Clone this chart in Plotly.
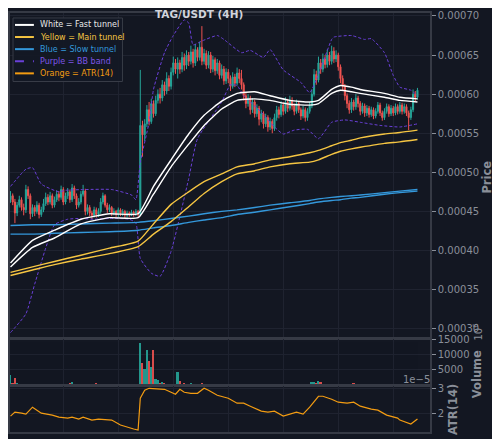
import plotly.graph_objects as go
from plotly.subplots import make_subplots

# TAG/USDT 4H candles, prices in 1e-6 USDT
first_open = 465
closes = [470, 462, 448, 458, 465, 455, 452, 478, 470, 447,
          455, 450, 458, 446, 452, 460, 468, 462, 470, 458,
          465, 472, 468, 478, 462, 470, 475, 465, 480, 470,
          458, 462, 472, 476, 450, 455, 448, 445, 452, 446,
          450, 462, 470, 458, 452, 455, 448, 450, 446, 452,
          447, 450, 445, 448, 446, 449, 447, 450, 446, 560,
          548, 562, 580, 565, 588, 575, 592, 600, 595, 612,
          604, 620, 610, 628, 640, 632, 640, 632, 647, 637,
          650, 642, 654, 640, 657, 647, 660, 642, 652, 637,
          650, 632, 644, 630, 640, 624, 632, 617, 628, 620,
          610, 622, 614, 627, 620, 612, 598, 588, 595, 580,
          590, 575, 582, 568, 575, 562, 570, 558, 565, 556,
          570, 580, 574, 586, 578, 590, 582, 592, 585, 578,
          588, 580, 572, 580, 570, 578, 585, 600, 625, 618,
          640, 632, 645, 638, 650, 642, 655, 645, 650, 635,
          620, 610, 598, 588, 580, 590, 584, 595, 588, 578,
          585, 576, 582, 574, 580, 572, 578, 586, 576, 570,
          578, 584, 575, 582, 576, 584, 578, 586, 578, 584,
          576, 570, 580, 600, 596, 605]
highs = [476, 473, 466, 462, 470, 468, 460, 484, 482, 473,
         459, 458, 463, 461, 456, 466, 474, 472, 475, 473,
         469, 477, 476, 483, 481, 474, 480, 478, 485, 483,
         473, 467, 476, 484, 479, 459, 458, 451, 456, 455,
         454, 467, 474, 472, 461, 459, 457, 454, 452, 455,
         454, 453, 452, 451, 450, 452, 451, 453, 452, 631,
         566, 568, 586, 590, 594, 592, 598, 606, 608, 618,
         616, 628, 624, 634, 648, 645, 647, 644, 654, 652,
         656, 654, 662, 658, 664, 660, 667, 687, 658, 656,
         655, 654, 649, 647, 645, 643, 638, 636, 633, 632,
         624, 628, 626, 634, 632, 631, 615, 602, 600, 598,
         595, 593, 587, 585, 580, 578, 575, 573, 570, 568,
         575, 585, 584, 591, 590, 596, 594, 598, 596, 588,
         593, 591, 583, 585, 583, 582, 590, 606, 632, 630,
         648, 645, 652, 650, 657, 654, 662, 660, 656, 653,
         638, 624, 613, 601, 592, 595, 593, 600, 598, 591,
         589, 588, 586, 585, 584, 583, 582, 590, 589, 579,
         582, 588, 587, 586, 585, 588, 587, 590, 589, 588,
         587, 579, 584, 606, 604, 608]
lows = [461, 458, 435, 444, 455, 451, 445, 448, 466, 440,
        443, 444, 447, 441, 443, 449, 457, 458, 459, 454,
        455, 462, 463, 465, 458, 459, 466, 461, 462, 466,
        453, 455, 459, 469, 445, 446, 444, 440, 442, 442,
        443, 447, 459, 455, 448, 449, 444, 445, 443, 443,
        444, 444, 441, 442, 443, 444, 443, 444, 443, 444,
        520, 540, 558, 560, 562, 570, 572, 588, 588, 591,
        598, 600, 604, 606, 624, 626, 620, 626, 628, 630,
        632, 636, 638, 634, 636, 642, 643, 637, 638, 632,
        633, 627, 628, 624, 626, 619, 620, 612, 613, 614,
        604, 607, 609, 611, 614, 606, 592, 582, 584, 574,
        576, 570, 571, 560, 564, 556, 558, 552, 554, 550,
        553, 566, 569, 571, 573, 575, 577, 579, 580, 573,
        575, 576, 567, 569, 565, 566, 575, 582, 597, 612,
        615, 626, 628, 633, 634, 637, 638, 640, 641, 630,
        614, 604, 592, 582, 575, 576, 579, 580, 583, 573,
        575, 571, 572, 570, 571, 568, 569, 575, 572, 566,
        567, 575, 571, 572, 572, 573, 574, 575, 574, 575,
        572, 554, 567, 577, 591, 593]
volumes = [3550, 1000, 2600, 800, 500, 400, 350, 700, 650, 700,
           500, 400, 350, 300, 350, 400, 500, 300, 250, 300,
           250, 300, 350, 300, 400, 350, 300, 800, 1300, 600,
           400, 350, 600, 350, 300, 250, 300, 350, 400, 900,
           400, 300, 250, 300, 200, 250, 300, 200, 250, 300,
           250, 200, 300, 250, 200, 300, 250, 350, 400, 13900,
           7400, 5500, 11600, 8000, 6100, 11600, 2300, 1900, 1000, 1200,
           800, 700, 600, 500, 700, 600, 4500, 1600, 700, 900,
           600, 500, 800, 400, 500, 400, 600, 1000, 700, 500,
           400, 500, 300, 400, 350, 300, 400, 500, 300, 250,
           300, 350, 400, 300, 250, 400, 500, 600, 400, 350,
           300, 400, 350, 300, 250, 300, 400, 350, 300, 250,
           300, 350, 250, 300, 400, 350, 300, 250, 300, 350,
           250, 300, 350, 400, 300, 500, 600, 1300, 1100, 800,
           1600, 1300, 700, 600, 500, 400, 600, 500, 400, 500,
           600, 700, 500, 400, 350, 500, 1000, 400, 350, 300,
           300, 250, 300, 350, 250, 300, 250, 300, 350, 250,
           300, 250, 200, 250, 300, 250, 200, 250, 300, 250,
           300, 400, 350, 600, 400, 500]

# tunnel lines read at these bar indices (1e-6 USDT)
line_idx = [0, 10, 20, 32, 45, 58, 65, 73, 81, 88, 96, 103, 111, 118, 127, 136, 140, 146, 150, 155, 159, 170, 177, 185]
fast_hi = [384, 413, 426, 440, 447, 447, 482, 516, 549, 573, 591, 601, 603, 598, 592, 590, 592, 606, 611, 609, 606, 601, 596, 594]
fast_lo = [379, 404, 416, 434, 442, 442, 472, 507, 536, 560, 581, 592, 594, 592, 587, 586, 588, 601, 605, 603, 601, 596, 592, 590]
main_hi = [372, 379, 386, 394, 403, 412, 434, 459, 475, 488, 498, 507, 511, 516, 520, 525, 528, 534, 538, 541, 544, 549, 551, 554]
main_lo = [368, 375, 382, 389, 396, 405, 421, 437, 456, 473, 488, 498, 502, 507, 511, 513, 516, 523, 527, 530, 532, 537, 539, 542]
slow_hi = [432, 433, 433, 434, 435, 436, 438, 441, 444, 447, 450, 452, 455, 458, 461, 464, 466, 468, 469, 470, 471, 474, 476, 478]
slow_lo = [421, 421, 422, 423, 424, 426, 429, 432, 436, 439, 442, 446, 449, 452, 456, 460, 462, 464, 465, 467, 468, 472, 474, 476]

bb_up_idx = [0, 7, 10, 14, 22, 25, 34, 46, 55, 57, 59, 63, 65, 70, 74, 79, 81, 83, 87, 94,
             97, 105, 109, 115, 118, 124, 132, 136, 140, 146, 147, 155, 161, 164, 170, 174, 177, 182, 185]
bb_up = [482, 504, 506, 485, 475, 477, 478, 478, 471, 465, 513, 564, 606, 653, 675, 695, 691, 663, 668, 675,
         670, 653, 656, 647, 657, 631, 615, 602, 625, 670, 673, 675, 670, 671, 653, 624, 609, 605, 598]
bb_lo_idx = [0, 7, 11, 16, 20, 26, 32, 38, 45, 54, 57, 59, 64, 68, 73, 81, 85, 96, 100, 103,
             106, 114, 120, 124, 129, 135, 140, 146, 152, 159, 168, 177, 185]
bb_lo = [295, 319, 357, 403, 433, 440, 441, 440, 441, 440, 435, 390, 371, 367, 399, 492, 543, 590, 612, 611,
         598, 577, 558, 549, 554, 555, 543, 564, 567, 564, 560, 558, 562]

# ATR(14) in 1e-5 USDT
atr_idx = [0, 2, 5, 7, 10, 14, 19, 22, 26, 28, 31, 33, 37, 40, 46, 50, 56, 58, 59, 61,
           63, 67, 70, 73, 75, 77, 79, 82, 85, 88, 90, 94, 99, 103, 106, 109, 114, 117, 120, 124,
           127, 130, 133, 136, 140, 142, 146, 149, 153, 156, 159, 164, 167, 171, 176, 177, 182, 183, 185]
atr = [1.88, 2.04, 2.0, 1.96, 2.24, 2.0, 1.92, 1.84, 1.8, 1.84, 1.76, 1.84, 1.72, 1.76, 1.72, 1.52, 1.36, 1.32, 2.6, 2.92,
       3.0, 2.96, 2.96, 2.84, 2.76, 2.96, 2.84, 2.8, 2.8, 3.0, 2.92, 2.72, 2.6, 2.4, 2.4, 2.28, 2.08, 2.04, 2.08, 1.88,
       1.96, 2.04, 1.96, 2.24, 2.68, 2.68, 2.56, 2.44, 2.4, 2.44, 2.28, 2.16, 2.12, 1.92, 1.8, 1.72, 1.56, 1.64, 1.76]

BG = '#131722'
GRID = '#1f2330'
AXIS = '#363a45'
LABEL = '#8a8f99'
UP, DOWN = '#26a69a', '#ef5350'
WHITE, YELLOW, BLUE, PURPLE, ORANGE = '#ffffff', '#f5c542', '#3498db', '#6a40d8', '#f39c12'

p = lambda vals: [v * 1e-6 for v in vals]
bars = list(range(len(closes)))
opens = [first_open] + closes[:-1]

fig = make_subplots(rows=3, cols=1, shared_xaxes=True, vertical_spacing=0.004)

fig.add_trace(go.Candlestick(
    x=bars, open=p(opens), high=p(highs), low=p(lows), close=p(closes),
    increasing=dict(line=dict(color=UP, width=1), fillcolor=UP),
    decreasing=dict(line=dict(color=DOWN, width=1), fillcolor=DOWN),
    whiskerwidth=0, showlegend=False
), row=1, col=1)

for vals, idx in ((bb_up, bb_up_idx), (bb_lo, bb_lo_idx)):
    fig.add_trace(go.Scatter(x=idx, y=p(vals), mode='lines', showlegend=False,
                             line=dict(color=PURPLE, width=1, dash='3px,2px', shape='spline', smoothing=0.5)),
                  row=1, col=1)

for vals, color in ((slow_hi, BLUE), (slow_lo, BLUE), (main_hi, YELLOW), (main_lo, YELLOW),
                    (fast_hi, WHITE), (fast_lo, WHITE)):
    fig.add_trace(go.Scatter(x=line_idx, y=p(vals), mode='lines', showlegend=False,
                             line=dict(color=color, width=1.4, shape='spline', smoothing=0.5)),
                  row=1, col=1)

vol_colors = [UP if c >= o else DOWN for o, c in zip(opens, closes)]
fig.add_trace(go.Bar(x=bars, y=volumes, marker=dict(color=vol_colors, line=dict(width=0)),
                     width=0.8, opacity=0.9, showlegend=False), row=2, col=1)

fig.add_trace(go.Scatter(x=atr_idx, y=[a * 1e-5 for a in atr], mode='lines', showlegend=False,
                         line=dict(color=ORANGE, width=1.2)), row=3, col=1)


# the page puts the figure 8px in from the window corner; positions below are window pixels
def px(x):
    return (x - 8) / 422


def py(y):
    return (432 - y) / 422


axis_common = dict(showline=True, linecolor=AXIS, linewidth=1.5, mirror=True,
                   gridcolor=GRID, gridwidth=1, zeroline=False)
for n in (1, 2, 3):
    fig.update_xaxes(range=[-0.23, 190.7], showticklabels=False, tick0=24.2, dtick=25,
                     ticks='', rangeslider_visible=False, **axis_common, row=n, col=1)

yfont = dict(size=10, color=LABEL)
fig.update_layout(
    yaxis=dict(domain=[py(337), 1], side='right', range=[0.0002885, 0.0007038],
               tick0=0.0003, dtick=0.00005, tickformat='.5f', ticks='outside', ticklen=4,
               tickcolor=LABEL, tickfont=yfont, **axis_common),
    yaxis2=dict(domain=[py(385), py(338)], side='right', range=[0, 15160],
                tickvals=[5000, 10000, 15000], tickformat='d', ticks='outside', ticklen=4,
                tickcolor=LABEL, tickfont=yfont, **axis_common),
    yaxis3=dict(domain=[0, py(386)], side='right', range=[1.24e-5, 3.08e-5],
                tickvals=[2e-5, 3e-5], ticktext=['2', '3'], ticks='outside', ticklen=4,
                tickcolor=LABEL, tickfont=yfont, **axis_common),
)

annotations = [
    dict(text='<b>TAG/USDT (4H)</b>', x=px(198), y=py(11), font=dict(size=10.5, color='#d1d4dc')),
    dict(text='<b>Price</b>', x=px(487), y=py(175), textangle=-90, font=dict(size=11.5, color=LABEL)),
    dict(text='<b>Volume</b>', x=px(478), y=py(374), textangle=-90, font=dict(size=11.5, color=LABEL)),
    dict(text='10<sup>6</sup>', x=px(478), y=py(331), textangle=-90, font=dict(size=10, color=LABEL)),
    dict(text='<b>ATR(14)</b>', x=px(453), y=py(409), textangle=-90, font=dict(size=11.5, color=LABEL)),
    dict(text='1e\u22125', x=px(416), y=py(379), font=dict(size=10, color=LABEL)),
]

# hand-drawn legend box (plotly's own legend rows are too tall here)
legend_rows = [('White = Fast tunnel', WHITE, 'solid', '#e8e8e8'),
               ('Yellow = Main tunnel', YELLOW, 'solid', YELLOW),
               ('Blue = Slow tunnel', BLUE, 'solid', BLUE),
               ('Purple = BB band', PURPLE, 'dash', '#7d55e6'),
               ('Orange = ATR(14)', ORANGE, 'solid', ORANGE)]
shapes = [dict(type='rect', xref='paper', yref='paper', x0=px(11), x1=px(121), y0=py(15), y1=py(79),
               fillcolor='#141925', opacity=0.95, line=dict(color='#3a3e49', width=1), layer='above')]
for k, (label, color, dash, tcolor) in enumerate(legend_rows):
    yy = 22 + k * 12.2
    shapes.append(dict(type='line', xref='paper', yref='paper', x0=px(13), x1=px(32), y0=py(yy), y1=py(yy),
                       line=dict(color=color, width=2, dash=dash), layer='above'))
    annotations.append(dict(text=label, x=px(36), y=py(yy), xanchor='left', font=dict(size=8, color=tcolor)))

for a in annotations:
    a.update(xref='paper', yref='paper', showarrow=False)
    a.setdefault('xanchor', 'center')
    a.setdefault('yanchor', 'middle')

fig.update_layout(
    width=492, height=431,
    margin=dict(l=0, r=70, t=2, b=7),
    paper_bgcolor=BG, plot_bgcolor=BG,
    font=dict(family='DejaVu Sans', color=LABEL),
    showlegend=False, bargap=0,
    annotations=annotations, shapes=shapes,
)

fig.write_html("out.html")
